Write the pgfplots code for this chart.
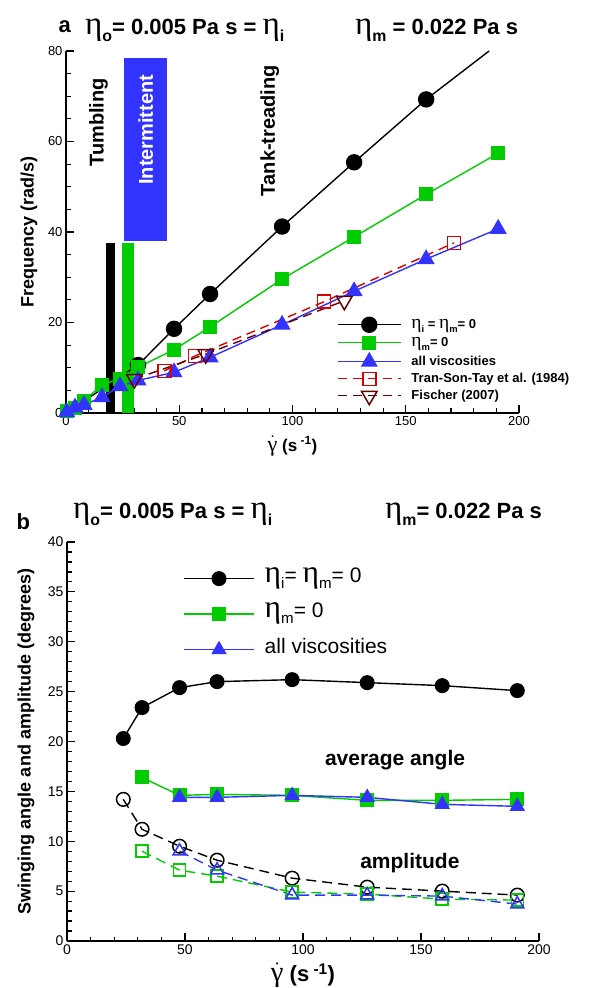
\documentclass[border=0pt]{standalone}
\usepackage{fontspec}
\setmainfont{Liberation Sans}
\newfontfamily\etafont{Liberation Serif}
\usepackage{graphicx}
\usepackage{pgfplots}
\pgfplotsset{compat=1.18}
\definecolor{tgreen}{HTML}{00CC00}
\definecolor{tblue}{HTML}{3333FF}
\definecolor{tred}{HTML}{DD0000}
\definecolor{tdred}{HTML}{660000}
\newcommand\fs[1]{\fontsize{#1}{#1}\selectfont}
\newcommand\et{\scalebox{1.5}{\etafont\mdseries η}}
\newcommand\sub[1]{\raisebox{-0.3em}{\scalebox{0.72}{#1}}}
\newcommand\gdot{\scalebox{1.3}{$\dot{\hbox{\etafont\mdseries γ}}$}}
\pgfplotsset{
  panel/.style={
    scale only axis, anchor=south west,
    axis x line*=bottom, axis y line*=left,
    axis line style={line width=1.8pt,-},
    tick align=inside,
    major tick length=8pt, minor tick length=4.5pt,
    tick style={black, line width=1.2pt},
    /pgf/number format/assume math mode=true,
    clip=false,
    legend cell align=left,
  },
}

\begin{document}
\begin{tikzpicture}[x=1pt,y=1pt]
\useasboundingbox (0,0) rectangle (593,988);
% titles
\node[anchor=base west,font=\fs{22}\bfseries] at (55,955) {a};
\node[anchor=base west,font=\fs{22}\bfseries,inner sep=0pt] at (85,953) {\et\sub{o}= 0.005 Pa s = \et\sub{i}};
\node[anchor=base west,font=\fs{22}\bfseries,inner sep=0pt] at (355,953) {\et\sub{m} = 0.022 Pa s};
\node[anchor=base west,font=\fs{22}\bfseries] at (13,458) {b};
\node[anchor=base west,font=\fs{22}\bfseries,inner sep=0pt] at (73,469) {\et\sub{o}= 0.005 Pa s = \et\sub{i}};
\node[anchor=base west,font=\fs{22}\bfseries,inner sep=0pt] at (385,469) {\et\sub{m}= 0.022 Pa s};

% ---------- panel a ----------
\begin{axis}[panel,
  at={(66pt,575pt)}, width=453pt, height=362pt,
  xmin=0, xmax=200, ymin=0, ymax=80,
  xtick={0,50,...,200}, ytick={0,20,...,80},
  minor xtick={10,20,30,40,60,70,80,90,110,120,130,140,160,170,180,190},
  minor ytick={5,10,15,25,30,35,45,50,55,65,70,75},
  tick label style={font=\fs{13}},
  xlabel={\gdot\ (s\textsuperscript{ -1})},
  xlabel style={font=\fs{17}\bfseries, at={(axis description cs:0.5,0)}, anchor=center, yshift=-33pt},
  ylabel={Frequency (rad/s)},
  ylabel style={font=\fs{18}\bfseries, at={(axis description cs:0,0.5)}, anchor=center, yshift=37pt},
  legend style={at={(axis cs:119.6,21.2)}, anchor=north west, draw=none, fill=none,
    inner sep=0pt, row sep=4pt, column sep=10pt, font=\fs{13}\bfseries,
    nodes={inner sep=0pt, text height=10pt, text depth=3pt}},
  legend image code/.code={\draw[mark repeat=2,mark phase=2,#1] plot coordinates {(0pt,0pt) (31.5pt,0pt) (63pt,0pt)};},
]
\fill[black] (axis cs:17.5,0) rectangle (axis cs:21.6,37.5);
\fill[tgreen] (axis cs:24.9,0) rectangle (axis cs:30,37.5);
\fill[tblue] (axis cs:25.7,38) rectangle (axis cs:44.6,78.5);
\node[rotate=90, white, font=\fs{20}\bfseries] at (axis cs:35.2,62.6) {Intermittent};
\node[rotate=90, font=\fs{20}\bfseries] at (axis cs:14.3,64.2) {Tumbling};
\node[rotate=90, font=\fs{20}\bfseries] at (axis cs:90,62.4) {Tank-treading};

\addplot[black, line width=1.4pt, forget plot] coordinates {(0,0) (31.8,10.6)};
\addplot[black, line width=1.4pt, forget plot] coordinates {(159,69.3) (186.8,80)};
\addplot[black, line width=1.4pt, mark=*, mark size=7.5pt] coordinates {
  (31.8,10.6) (47.7,18.6) (63.6,26.3) (95.4,41.2) (127.2,55.4) (159,69.3)};
\addplot[tgreen, line width=1.4pt, mark=square*, mark size=6.3pt] coordinates {
  (0.3,0.5) (3.98,1.2) (7.95,2.7) (15.9,6.2) (23.85,7.6) (31.8,10.1) (47.7,14.0)
  (63.6,19.0) (95.4,29.6) (127.2,38.9) (159,48.3) (190.8,57.4)};
\addplot[tblue, line width=1.4pt, mark=triangle*, mark size=8.5pt] coordinates {
  (0.3,0.2) (3.98,1.2) (7.95,1.8) (15.9,3.5) (23.85,5.9) (31.8,7.2) (47.7,9.0)
  (63.6,12.3) (95.4,19.5) (127.2,26.9) (159,34.0) (190.8,40.7)};
\addplot[tred, line width=1.4pt, dash pattern=on 9pt off 6pt, mark=square, mark size=6.5pt,
  mark options={solid, line width=1.5pt}] coordinates {
  (43.4,9.3) (57,12.6) (114,24.6) (171.3,37.6)};
\addplot[tdred, line width=1.4pt, dash pattern=on 9pt off 6pt, mark=triangle, mark size=9pt,
  mark options={solid, rotate=180, line width=1.5pt}] coordinates {
  (30.2,7.5) (61.7,13.0) (122.9,24.8)};
\legend{{\et\sub{i} = \et\sub{m}= 0}, {\et\sub{m}= 0}, all viscosities,
  Tran-Son-Tay et al. (1984), Fischer (2007)}
\end{axis}

% ---------- panel b ----------
\begin{axis}[panel,
  at={(67pt,47pt)}, width=472pt, height=399pt,
  xmin=0, xmax=200, ymin=0, ymax=40,
  xtick={0,50,...,200}, ytick={0,5,...,40},
  minor xtick={10,20,...,190},
  minor ytick={1,2,...,39},
  tick label style={font=\fs{14}},
  xlabel={\gdot\ (s\textsuperscript{ -1})},
  xlabel style={font=\fs{22}\bfseries, at={(axis description cs:0.5,0)}, anchor=center, yshift=-34pt},
  ylabel={Swinging angle and amplitude (degrees)},
  ylabel style={font=\fs{18}\bfseries, at={(axis description cs:0,0.5)}, anchor=center, yshift=41pt},
  legend style={at={(axis cs:49.2,37.6)}, anchor=north west, draw=none, fill=none,
    inner sep=0pt, row sep=10.5pt, column sep=10pt, font=\fs{21},
    nodes={inner sep=0pt, text height=16pt, text depth=9pt}},
  legend image code/.code={\draw[mark repeat=2,mark phase=2,#1] plot coordinates {(0pt,0pt) (35pt,0pt) (70pt,0pt)};},
]
\node[font=\fs{21}\bfseries] at (axis cs:139,18.1) {average angle};
\node[font=\fs{21}\bfseries] at (axis cs:145.3,7.8) {amplitude};

\addplot[black, line width=1.4pt, mark=*, mark size=6.8pt] coordinates {
  (23.85,20.3) (31.8,23.4) (47.7,25.4) (63.6,26.0) (95.4,26.2) (127.2,25.9) (159,25.6) (190.8,25.1)};
\addplot[tgreen, line width=1.4pt, mark=square*, mark size=6.3pt] coordinates {
  (31.8,16.4) (47.7,14.6) (63.6,14.7) (95.4,14.6) (127.2,14.1) (159,14.1) (190.8,14.2)};
\addplot[tblue, line width=1.4pt, mark=triangle*, mark size=7.5pt] coordinates {
  (47.7,14.4) (63.6,14.4) (95.4,14.6) (127.2,14.4) (159,13.7) (190.8,13.5)};
\legend{{\et\sub{i}= \et\sub{m}= 0}, {\et\sub{m}= 0}, all viscosities}

\addplot[black, line width=1.4pt, dash pattern=on 10pt off 6pt, mark=o, mark size=6.8pt,
  mark options={solid, line width=1.5pt}] coordinates {
  (23.85,14.2) (31.8,11.2) (47.7,9.5) (63.6,8.1) (95.4,6.3) (127.2,5.4) (159,5.0) (190.8,4.6)};
\addplot[tgreen, line width=1.4pt, dash pattern=on 10pt off 6pt, mark=square, mark size=6pt,
  mark options={solid, line width=1.5pt}] coordinates {
  (31.8,9.0) (47.7,7.1) (63.6,6.5) (95.4,4.9) (127.2,4.7) (159,4.2) (190.8,4.1)};
\addplot[tblue, line width=1.4pt, dash pattern=on 10pt off 6pt, mark=triangle, mark size=7.5pt,
  mark options={solid, line width=1.5pt}] coordinates {
  (47.7,9.0) (63.6,7.1) (95.4,4.6) (127.2,4.6) (159,4.5) (190.8,3.7)};
\end{axis}
\end{tikzpicture}
\end{document}
